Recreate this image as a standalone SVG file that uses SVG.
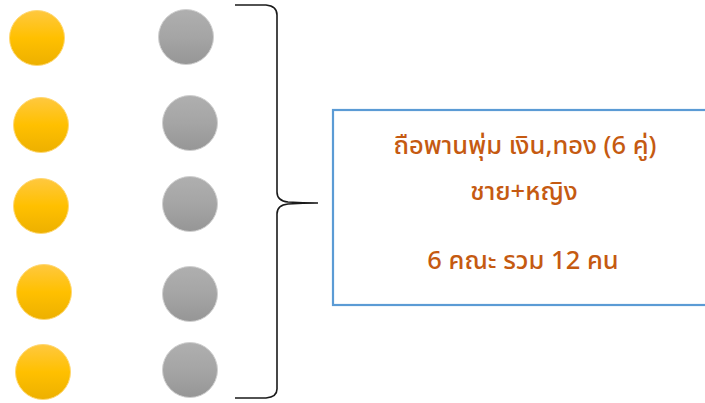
<svg xmlns="http://www.w3.org/2000/svg" width="705" height="403" viewBox="0 0 705 403">
<defs>
<linearGradient id="gy" x1="0" y1="0" x2="0" y2="1">
<stop offset="0" stop-color="#FFC83F"/>
<stop offset="0.5" stop-color="#FFC000"/>
<stop offset="1" stop-color="#EDB000"/>
</linearGradient>
<linearGradient id="gg" x1="0" y1="0" x2="0" y2="1">
<stop offset="0" stop-color="#AFAFAF"/>
<stop offset="0.5" stop-color="#A5A5A5"/>
<stop offset="1" stop-color="#969696"/>
</linearGradient>
<style>
.y{fill:url(#gy);stroke:#FFD873;stroke-width:1}
.g{fill:url(#gg);stroke:#D0D0D0;stroke-width:1}
.brace{fill:none;stroke:#1a1a1a;stroke-width:1.6}
.box{fill:#fff;stroke:#5B9BD5;stroke-width:2.2}
.t{font-family:"Noto Sans Thai","Tahoma","Leelawadee UI","Noto Sans","DejaVu Sans",sans-serif;font-size:25.5px;font-weight:500;fill:#C55A11;text-anchor:middle}
</style>
</defs>
<rect width="705" height="403" fill="#fff"/>
<g id="yellow1"><circle class="y" cx="37" cy="38" r="27.5"/></g>
<g id="yellow2"><circle class="y" cx="41" cy="125" r="27.5"/></g>
<g id="yellow3"><circle class="y" cx="41" cy="206" r="27.5"/></g>
<g id="yellow4"><circle class="y" cx="44" cy="292" r="27.5"/></g>
<g id="yellow5"><circle class="y" cx="43" cy="372" r="27.5"/></g>
<g id="gray1"><circle class="g" cx="186" cy="37" r="27.5"/></g>
<g id="gray2"><circle class="g" cx="190" cy="123" r="27.5"/></g>
<g id="gray3"><circle class="g" cx="190" cy="204" r="27.5"/></g>
<g id="gray4"><circle class="g" cx="190" cy="294" r="27.5"/></g>
<g id="gray5"><circle class="g" cx="190" cy="370" r="27.5"/></g>
<g id="connectors">
<path class="brace" d="M235,5 L266,5 Q277,6 277,15 L277,192 Q277,201 288,202 Q303,203 318,203 Q303,203 288,204 Q277,205 277,214 L277,389 Q277,397 266,398 L235,398"/>
</g>
<g id="box">
<rect class="box" x="333" y="110" width="385" height="195"/>
<text class="t" x="525" y="154">ถือพานพุ่ม เงิน,ทอง (6 คู่)</text>
<text class="t" x="524" y="200">ชาย+หญิง</text>
<text class="t" x="523" y="269">6 คณะ รวม 12 คน</text>
</g>
</svg>
